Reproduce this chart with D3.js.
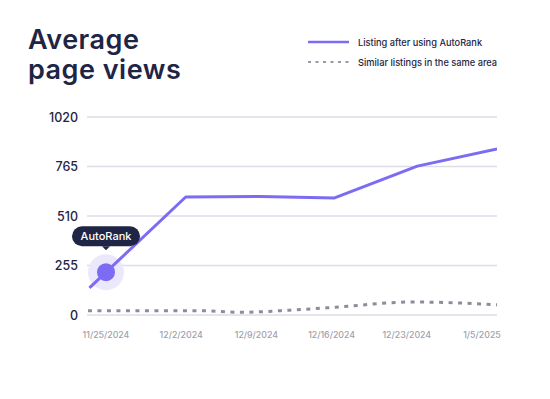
<!DOCTYPE html>
<html>
<head>
<meta charset="utf-8">
<script src="https://cdn.jsdelivr.net/npm/d3@7"></script>
<style>
  html, body { margin: 0; padding: 0; background: #fff; }
  svg { display: block; font-family: Inter, "Noto Sans", sans-serif; }
</style>
</head>
<body>
<div id="chart"></div>
<script>
// tick labels along the bottom (one per week slot)
var dateLabels = ["11/25/2024", "12/2/2024", "12/9/2024", "12/16/2024", "12/23/2024", "1/5/2025"];
var yTicks = [0, 255, 510, 765, 1020];

// series, x is the slot index (fractional where the line runs past a label)
var autoRankX = [-0.22, 1.06, 2.05, 3.04, 4.14, 5.2];
var autoRankY = [140, 608, 611, 603, 767, 855];
var similarX = [-0.24, 1.25, 1.78, 2.45, 3.05, 4.08, 5.2];
var similarY = [22, 22, 14, 25, 40, 67, 53];

var markerIndex = 0; // where the AutoRank bubble sits

var width = 550, height = 399;
var navy = "#1f2544", purple = "#7b6cf3", grey = "#8d8c9b";

var svg = d3.select("#chart").append("svg")
    .attr("width", width)
    .attr("height", height);

// title
var title = svg.append("text")
    .attr("x", 28)
    .attr("y", 49)
    .attr("fill", navy)
    .style("font-size", "27px")
    .style("font-weight", 600)
    .style("letter-spacing", "0.5px");
title.append("tspan").attr("x", 28).text("Average");
title.append("tspan").attr("x", 28).attr("dy", 30).text("page views");

// legend
var legend = svg.append("g");
legend.append("line")
    .attr("x1", 308).attr("x2", 349).attr("y1", 42).attr("y2", 42)
    .attr("stroke", purple).attr("stroke-width", 2.5);
legend.append("line")
    .attr("x1", 308).attr("x2", 349).attr("y1", 62).attr("y2", 62)
    .attr("stroke", "#9897a6").attr("stroke-width", 2)
    .attr("stroke-dasharray", "3,4.5");
legend.append("text").attr("x", 358).attr("y", 45.5)
    .attr("fill", navy).style("font-size", "9.25px").style("font-weight", 500)
    .text("Listing after using AutoRank");
legend.append("text").attr("x", 358).attr("y", 65.5)
    .attr("fill", navy).style("font-size", "9.25px").style("font-weight", 500)
    .text("Similar listings in the same area");

// scales
var left = 87, right = 497;
var x = d3.scaleLinear().domain([0, dateLabels.length - 1]).range([106, 482]);
var y = d3.scaleLinear().domain([0, 1020]).range([315, 117]);

// grid + y labels
var grid = svg.append("g");
grid.selectAll("line")
    .data(yTicks)
    .enter().append("line")
    .attr("x1", left).attr("x2", right)
    .attr("y1", function(d){ return y(d); })
    .attr("y2", function(d){ return y(d); })
    .attr("stroke", "#dedce9")
    .attr("stroke-width", 1.3);
grid.selectAll("text")
    .data(yTicks)
    .enter().append("text")
    .attr("x", 78)
    .attr("y", function(d){ return y(d); })
    .attr("dy", "0.36em")
    .attr("text-anchor", "end")
    .attr("fill", navy)
    .style("font-size", "12.5px")
    .style("font-weight", 500)
    .text(function(d){ return d; });

// x labels
svg.append("g").selectAll("text")
    .data(dateLabels)
    .enter().append("text")
    .attr("x", function(d, i){ return x(i); })
    .attr("y", 338)
    .attr("text-anchor", "middle")
    .attr("fill", "#a09fac")
    .style("font-size", "8.8px")
    .style("font-weight", 500)
    .text(function(d){ return d; });

// clip so lines stop at the grid edges
svg.append("clipPath").attr("id", "plot")
    .append("rect").attr("x", left + 1).attr("y", 0).attr("width", right - left - 1).attr("height", height);

var similar = similarX.map(function(d, i){ return [d, similarY[i]]; });
var autoRank = autoRankX.map(function(d, i){ return [d, autoRankY[i]]; });

var lineSmooth = d3.line()
    .x(function(d){ return x(d[0]); })
    .y(function(d){ return y(d[1]); })
    .curve(d3.curveMonotoneX);
var lineStraight = d3.line()
    .x(function(d){ return x(d[0]); })
    .y(function(d){ return y(d[1]); });

var plot = svg.append("g").attr("clip-path", "url(#plot)");
plot.append("path")
    .datum(similar)
    .attr("d", lineSmooth)
    .attr("fill", "none")
    .attr("stroke", grey)
    .attr("stroke-width", 3)
    .attr("stroke-dasharray", "4,5.5");

// marker (halo drawn below the purple line)
var markerValue = d3.scaleLinear().domain(autoRankX).range(autoRankY)(markerIndex);
var mx = x(markerIndex), my = y(markerValue);
plot.append("circle").attr("cx", mx).attr("cy", my).attr("r", 18).attr("fill", "#ebe8fd");

plot.append("path")
    .datum(autoRank)
    .attr("d", lineStraight)
    .attr("fill", "none")
    .attr("stroke", purple)
    .attr("stroke-width", 3)
    .attr("stroke-linejoin", "round");

plot.append("circle").attr("cx", mx).attr("cy", my).attr("r", 9).attr("fill", purple);

// tooltip
var tip = svg.append("g").attr("transform", "translate(" + mx + "," + (my - 26) + ")");
tip.append("rect")
    .attr("x", -34).attr("y", -20).attr("width", 68).attr("height", 20)
    .attr("rx", 10).attr("fill", navy);
tip.append("path")
    .attr("d", "M-4,0 L0,4 L4,0 Z")
    .attr("fill", navy);
tip.append("text")
    .attr("x", 0).attr("y", -6)
    .attr("text-anchor", "middle")
    .attr("fill", "#fff")
    .style("font-size", "11px")
    .style("font-weight", 500)
    .text("AutoRank");
</script>
</body>
</html>
